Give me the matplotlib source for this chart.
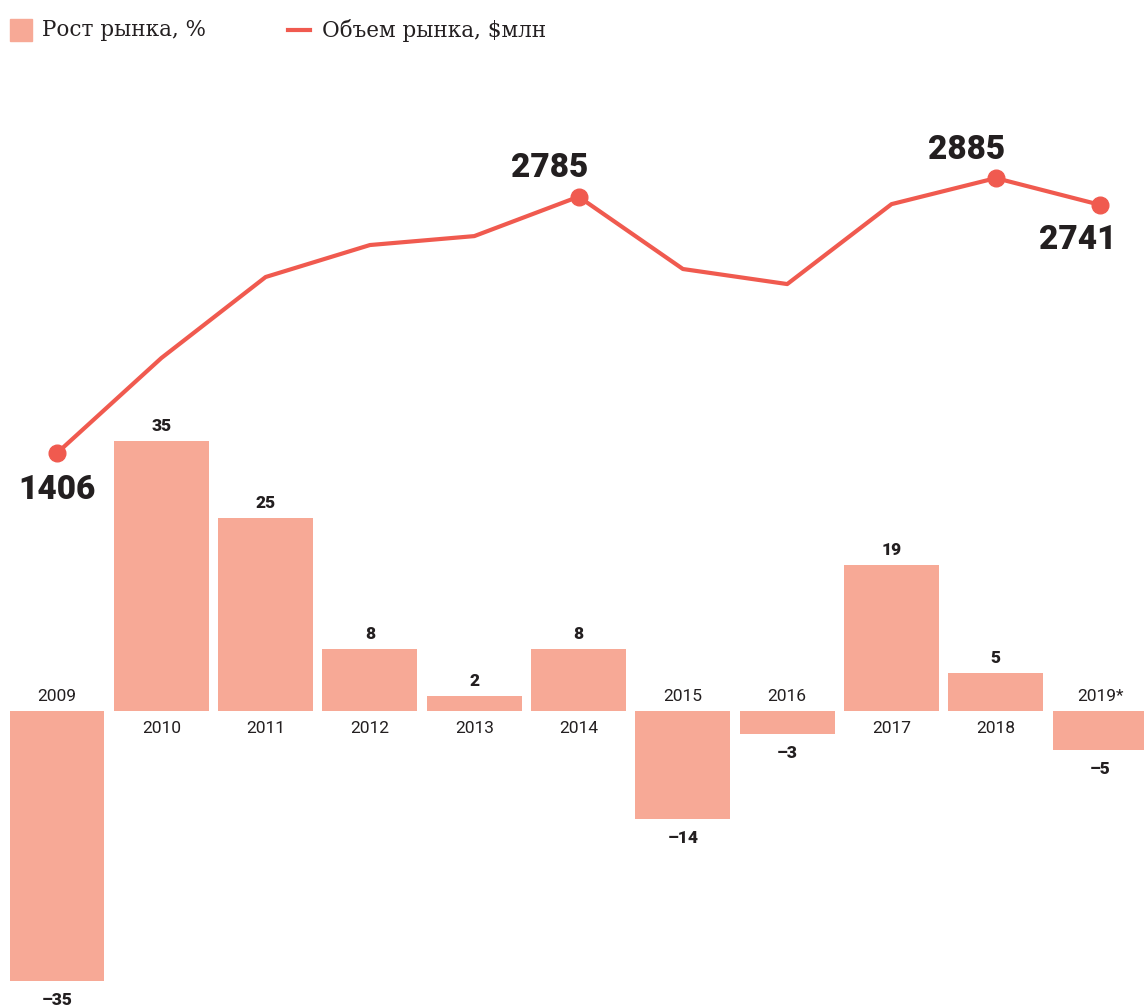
import matplotlib.pyplot as plt
import matplotlib.patches as mpatches
from matplotlib.lines import Line2D
import numpy as np

years = ["2009", "2010", "2011", "2012", "2013", "2014", "2015", "2016", "2017", "2018", "2019*"]
growth = [-35, 35, 25, 8, 2, 8, -14, -3, 19, 5, -5]
volume = [1406, 1917, 2353, 2525, 2573, 2785, 2396, 2315, 2745, 2885, 2741]
labelled = [0, 5, 9, 10]

bar_color = "#f7a996"
line_color = "#f05a4f"
text_color = "#231f20"


def main():
    fig = plt.figure(figsize=(11.44, 10.08), dpi=100)
    ax = fig.add_axes([0, 0, 1, 1])
    x = np.arange(len(years))

    ax.bar(x, growth, width=0.91, color=bar_color)
    ax.set_xlim(-0.5465, 10.42)
    ax.set_ylim(-38.5, 92.2)
    ax.axis("off")

    for i, (yr, g) in enumerate(zip(years, growth)):
        if g >= 0:
            ax.annotate(str(g), (i, g), xytext=(0, 5), textcoords="offset points",
                        ha="center", va="bottom", fontsize=12.5, fontweight="black",
                        family="Roboto", color=text_color)
            ax.annotate(yr, (i, 0), xytext=(0, -7), textcoords="offset points",
                        ha="center", va="top", fontsize=12.5, family="Roboto",
                        color=text_color)
        else:
            ax.annotate("\u2013" + str(-g), (i, g), xytext=(0, -8), textcoords="offset points",
                        ha="center", va="top", fontsize=12.5, fontweight="black",
                        family="Roboto", color=text_color)
            ax.annotate(yr, (i, 0), xytext=(0, 5), textcoords="offset points",
                        ha="center", va="bottom", fontsize=12.5, family="Roboto",
                        color=text_color)

    ax2 = ax.twinx()
    ax2.set_ylim(-1579, 3843)
    ax2.axis("off")
    ax2.plot(x, volume, color=line_color, lw=3, marker="o", markersize=12,
             markevery=labelled, solid_joinstyle="round")

    # label offsets in points: (dx, dy, va)
    offsets = {0: (0, -15, "top"), 5: (-21, 9, "bottom"), 9: (-21, 9, "bottom"), 10: (-16, -14, "top")}
    for i in labelled:
        dx, dy, va = offsets[i]
        ax2.annotate(str(volume[i]), (i, volume[i]), xytext=(dx, dy), textcoords="offset points",
                     ha="center", va=va, fontsize=24, fontweight="black", family="Roboto",
                     color=text_color)

    # legend drawn by hand
    fig.patches.append(mpatches.Rectangle((10 / 1144, 1 - 41 / 1008), 22 / 1144, 22 / 1008,
                                          transform=fig.transFigure, color=bar_color))
    fig.text(42 / 1144, 1 - 30 / 1008, "Рост рынка, %", fontsize=15.5, family="DejaVu Serif",
             va="center", ha="left", color=text_color)
    fig.lines.append(Line2D([288 / 1144, 310 / 1144], [1 - 30 / 1008, 1 - 30 / 1008],
                            transform=fig.transFigure, color=line_color, lw=3))
    fig.text(322 / 1144, 1 - 30 / 1008, "Объем рынка, $млн", fontsize=15.5, family="DejaVu Serif",
             va="center", ha="left", color=text_color)

    fig.savefig("out.png", dpi=100)


main()
